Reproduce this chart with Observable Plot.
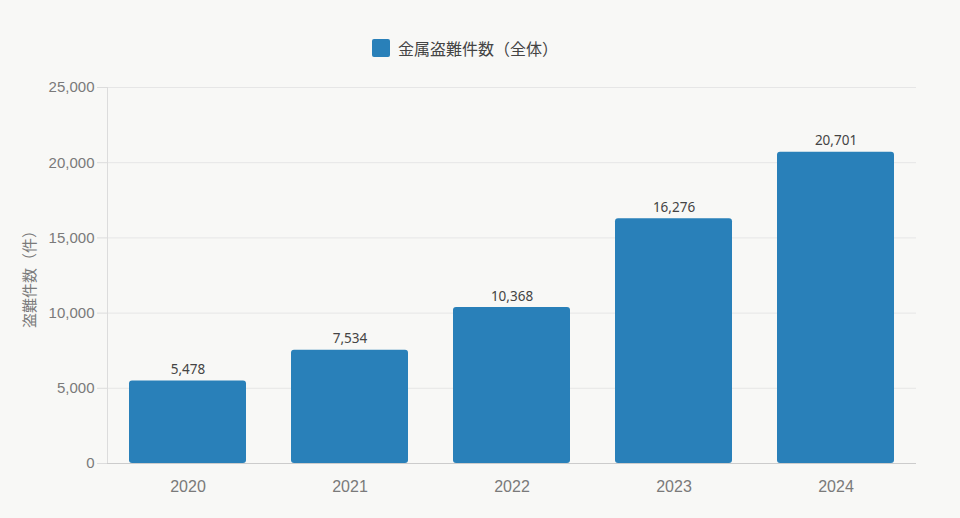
<!DOCTYPE html>
<html>
<head>
<meta charset="utf-8">
<script src="https://cdn.jsdelivr.net/npm/d3@7"></script>
<script src="https://cdn.jsdelivr.net/npm/@observablehq/plot@0.6"></script>
<style>
  html, body { margin: 0; padding: 0; background: #f8f8f6; }
  #wrap { width: 960px; height: 518px; position: relative; background: #f8f8f6; }
  #legend { height: 75px; position: relative; font-family: "Noto Sans CJK JP", sans-serif; font-size: 16px; color: #444; }
  #legend .item { position: absolute; left: 372px; top: 38px; display: flex; align-items: center; height: 20px; }
  #legend .sw { width: 18px; height: 18px; background: #2980b9; border-radius: 2px; margin-right: 8px; }
  svg { display: block; }
</style>
</head>
<body>
<div id="wrap">
  <div id="legend"><div class="item"><div class="sw"></div><span id="series"></span></div></div>
  <div id="chart"></div>
</div>
<script>
const years = ["2020", "2021", "2022", "2023", "2024"];
const counts = [5478, 7534, 10368, 16276, 20701];
const yTicks = [0, 5000, 10000, 15000, 20000, 25000];
const seriesName = "金属盗難件数（全体）";
const yLabel = "盗難件数（件）";

document.getElementById("series").textContent = seriesName;

const data = years.map((y, i) => ({year: y, count: counts[i]}));
const fmt = d3.format(",");

const chart = Plot.plot({
  width: 960,
  height: 443,
  marginTop: 12,
  marginLeft: 107,
  marginRight: 44,
  marginBottom: 55,
  style: {background: "#f8f8f6", fontFamily: "'Liberation Sans', Arial, sans-serif", fontSize: "15px", color: "#7a7a7a"},
  x: {domain: years, paddingInner: 0.28, paddingOuter: 0.13},
  y: {domain: [0, 25000]},
  marks: [
    Plot.gridY(yTicks, {stroke: "#e6e6e6", strokeOpacity: 1}),
    Plot.frame({anchor: "left", stroke: "#dcdcdc"}),
    Plot.axisY(yTicks, {tickFormat: fmt, tickSize: 10, tickPadding: 3, stroke: "#dcdcdc", strokeOpacity: 1, fill: "#7a7a7a", fontSize: 15, label: null}),
    Plot.text([yLabel], {frameAnchor: "left", textAnchor: "middle", rotate: -90, dx: -77, fill: "#7a7a7a", fontSize: 15, fontFamily: "'Noto Sans CJK JP', sans-serif"}),
    Plot.axisX({tickSize: 0, tickPadding: 17, fill: "#7a7a7a", fontSize: 16, label: null}),
    Plot.barY(data, {x: "year", y: "count", fill: "#2980b9", rx: 3}),
    Plot.ruleY([0], {stroke: "#cccccc"}),
    Plot.text(data, {x: "year", y: "count", text: d => fmt(d.count), lineAnchor: "bottom", dy: -7, fill: "#444", fontSize: 13.5, fontFamily: "'Noto Sans', sans-serif"})
  ]
});
document.getElementById("chart").appendChild(chart);
</script>
</body>
</html>
